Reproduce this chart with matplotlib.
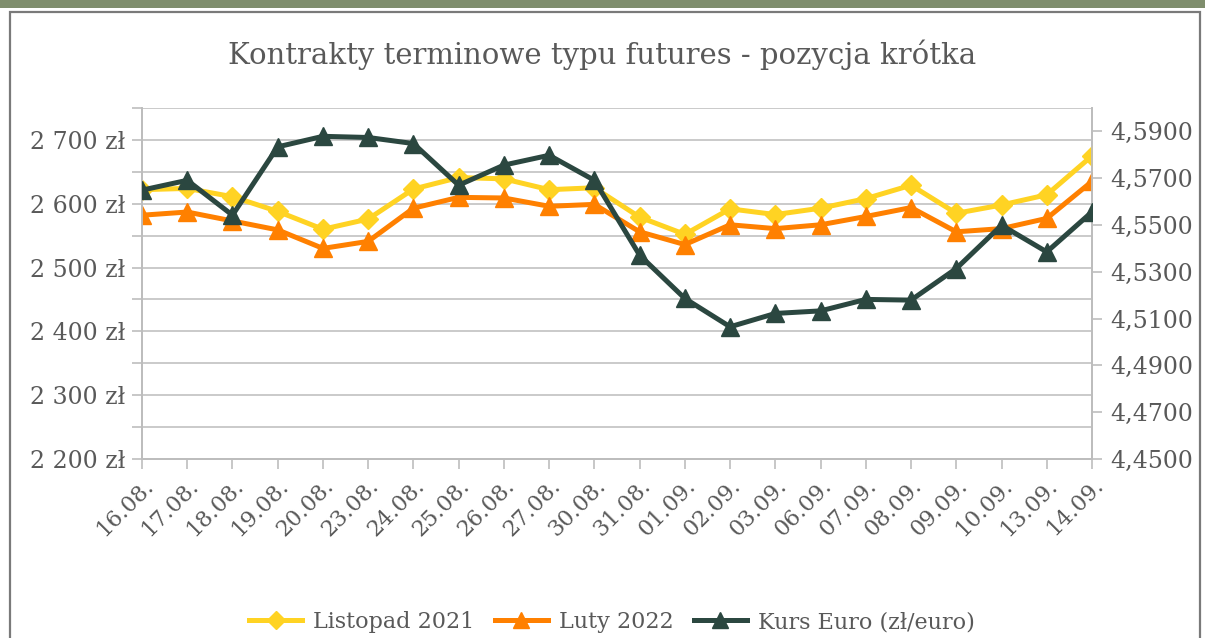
import numpy as np
import matplotlib
matplotlib.use("Agg")
import matplotlib.pyplot as plt
from matplotlib.ticker import MultipleLocator, FuncFormatter, FixedLocator
from matplotlib.patches import Rectangle
from matplotlib.lines import Line2D

plt.rcParams['font.family'] = ['DejaVu Serif']

# data
dates = ['16.08.', '17.08.', '18.08.', '19.08.', '20.08.', '23.08.', '24.08.',
         '25.08.', '26.08.', '27.08.', '30.08.', '31.08.', '01.09.', '02.09.',
         '03.09.', '06.09.', '07.09.', '08.09.', '09.09.', '10.09.', '13.09.',
         '14.09.']
listopad_2021 = [2622, 2624, 2611, 2588, 2560, 2576, 2623, 2641, 2639, 2622, 2625,
                 2579, 2552, 2592, 2583, 2593, 2608, 2629, 2585, 2598, 2614, 2675]
luty_2022 = [2582, 2587, 2573, 2559, 2530, 2541, 2593, 2610, 2609, 2596, 2599,
             2556, 2536, 2567, 2561, 2567, 2580, 2594, 2556, 2561, 2577, 2635]
kurs_euro = [4.5649, 4.5691, 4.5542, 4.5834, 4.5879, 4.5874, 4.5848, 4.5670,
             4.5756, 4.5798, 4.5691, 4.5371, 4.5186, 4.5065, 4.5122, 4.5133,
             4.5182, 4.5179, 4.5314, 4.5499, 4.5385, 4.5556]

c_yellow = '#ffd323'
c_orange = '#ff8000'
c_dark = '#2b4740'
c_text = '#595959'
c_grid = '#c6c6c6'

fig = plt.figure(figsize=(12.05, 6.38), dpi=100)

# frame like the original document
fig.patches.append(Rectangle((0, 1 - 8 / 638), 1, 8 / 638, transform=fig.transFigure,
                             facecolor='#7f8e6d', edgecolor='none', zorder=0))
fig.patches.append(Rectangle((10 / 1205, -0.1), 1190 / 1205, 1.1 - 12 / 638,
                             transform=fig.transFigure, facecolor='none',
                             edgecolor='#7a7a7a', linewidth=1.6, zorder=0))

ax = fig.add_axes([142 / 1205, 1 - 459 / 638, 950 / 1205, 351 / 638])
ax2 = ax.twinx()

x = np.arange(len(dates))
ax.plot(x, listopad_2021, color=c_yellow, lw=3.6, marker='D', ms=10,
        label='Listopad 2021', zorder=3)
ax.plot(x, luty_2022, color=c_orange, lw=3.6, marker='^', ms=13,
        label='Luty 2022', zorder=3)
ax2.plot(x, kurs_euro, color=c_dark, lw=3.6, marker='^', ms=13,
         label='Kurs Euro (zł/euro)', zorder=3)

ax.set_xlim(0, len(dates) - 1)
ax.set_ylim(2200, 2750)
ax2.set_ylim(4.45, 4.60)

ax.yaxis.set_major_locator(MultipleLocator(100))
ax.yaxis.set_minor_locator(MultipleLocator(50))
ax.yaxis.set_major_formatter(FuncFormatter(lambda v, p: f'{int(v):,} zł'.replace(',', ' ')))
ax.grid(axis='y', which='both', color=c_grid, lw=1.3)
ax.set_axisbelow(True)

ax2.yaxis.set_major_locator(FixedLocator(np.arange(4.45, 4.5901, 0.02)))
ax2.yaxis.set_major_formatter(FuncFormatter(lambda v, p: f'{v:.4f}'.replace('.', ',')))

ax.set_xticks(x)
ax.set_xticklabels(dates, rotation=45, ha='right', va='top', rotation_mode='anchor')

for a in (ax, ax2):
    for s in a.spines.values():
        s.set_color('#bdbdbd')
        s.set_linewidth(1.3)
    a.spines['top'].set_visible(False)
    a.tick_params(which='both', direction='out', length=7, width=1.2,
                  color='#bdbdbd', labelcolor=c_text, labelsize=17)
ax.tick_params(axis='x', pad=4, labelsize=16)
ax.tick_params(axis='y', pad=5)
ax2.tick_params(axis='y', pad=6)

fig.text(0.5, 1 - 55 / 638, 'Kontrakty terminowe typu futures - pozycja krótka',
         ha='center', va='center', fontsize=21, color=c_text)

handles = [Line2D([], [], color=c_yellow, lw=3.6, marker='D', ms=9),
           Line2D([], [], color=c_orange, lw=3.6, marker='^', ms=11),
           Line2D([], [], color=c_dark, lw=3.6, marker='^', ms=11)]
labels = ['Listopad 2021', 'Luty 2022', 'Kurs Euro (zł/euro)']
fig.legend(handles, labels, loc='center', bbox_to_anchor=(612 / 1205, 1 - 622 / 638),
           ncol=3, frameon=False, fontsize=16, labelcolor=c_text,
           handlelength=2.4, columnspacing=0.9, handletextpad=0.5)

fig.savefig('out.png', dpi=100)
